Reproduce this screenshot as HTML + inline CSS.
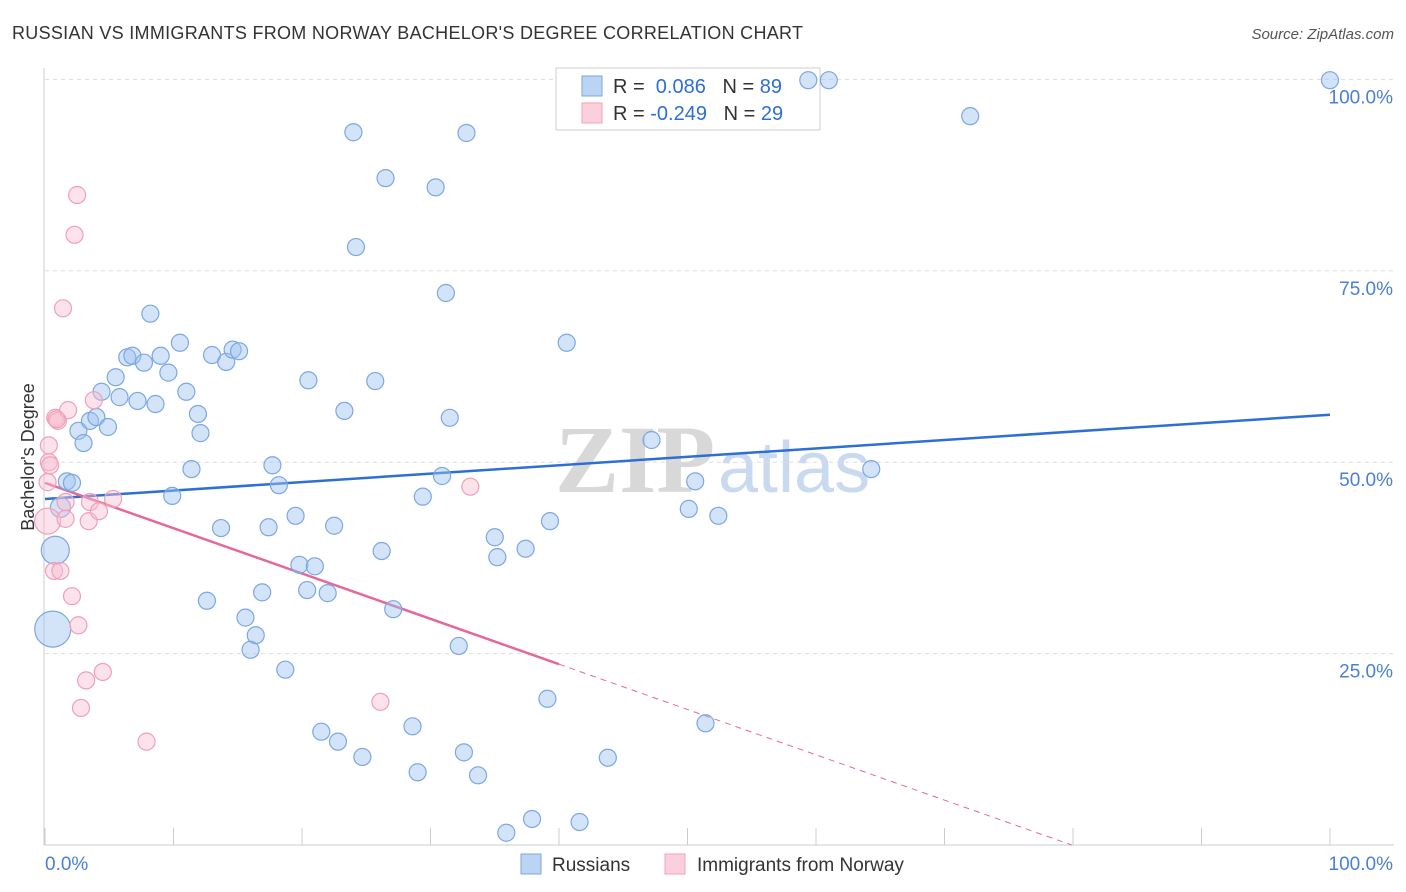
<!DOCTYPE html>
<html><head><meta charset="utf-8"><style>
body{margin:0;background:#fff;font-family:"Liberation Sans",sans-serif;}
svg{display:block}
</style></head><body>
<svg id="chart" width="1406" height="892" xmlns="http://www.w3.org/2000/svg">
<text x="12" y="39" font-size="18" fill="#333" textLength="791">RUSSIAN VS IMMIGRANTS FROM NORWAY BACHELOR'S DEGREE CORRELATION CHART</text>
<text x="1394" y="39" font-size="15" fill="#555" font-style="italic" text-anchor="end">Source: ZipAtlas.com</text>
<g>
<text x="555" y="492" font-size="96" font-family="Liberation Serif" font-weight="bold" fill="#d8d8d8">ZIP</text>
<text x="718" y="492" font-size="72" fill="#c9daf0">atlas</text>
</g>
<g id="grid"></g>
<g id="axes"></g>
<g>
<rect x="556" y="68" width="264" height="62" fill="#fff" stroke="#ccc"/>
<rect x="582" y="76" width="20" height="20" fill="#bcd4f4" stroke="#7aa6e0"/>
<text x="613" y="93" font-size="20" fill="#333">R = <tspan fill="#2d6fd6">&#160;0.086</tspan>&#160;&#160;&#160;N = <tspan fill="#2d6fd6">89</tspan></text>
<rect x="582" y="103" width="20" height="20" fill="#fbd0dc" stroke="#f0a0b8"/>
<text x="613" y="120" font-size="20" fill="#333">R = <tspan fill="#2d6fd6">-0.249</tspan>&#160;&#160;&#160;N = <tspan fill="#2d6fd6">29</tspan></text>
</g>
<g id="trend"></g>
<g id="pts"></g>
<text x="34" y="457" font-size="18" fill="#333" text-anchor="middle" transform="rotate(-90 34 457)">Bachelor's Degree</text>
<g>
<rect x="521" y="854" width="20" height="20" fill="#bcd4f4" stroke="#7aa6e0"/>
<text x="552" y="871" font-size="19" fill="#333">Russians</text></g>
<g>
<rect x="665" y="854" width="20" height="20" fill="#fbd0dc" stroke="#f0a0b8"/>
<text x="697" y="871" font-size="19" fill="#333">Immigrants from Norway</text></g>
</svg>
<script>
const blueX=[0.6,0.8,1.2,1.7,2.1,2.6,3.0,3.5,4.0,4.4,4.9,5.5,5.8,6.4,6.8,7.2,7.7,8.2,8.6,9.0,9.6,9.9,10.5,11.0,11.4,11.9,12.1,12.6,13.0,13.7,14.1,14.6,15.1,15.6,16.0,16.4,16.9,17.4,17.7,18.2,18.7,19.5,19.8,20.4,20.5,21.0,21.5,22.0,22.5,22.8,23.3,24.0,24.2,24.7,25.7,26.2,26.5,27.1,28.6,29.0,29.4,30.4,30.9,31.2,31.5,32.2,32.6,32.8,33.7,35.0,35.2,35.9,37.4,37.9,39.1,39.3,40.6,41.6,43.8,47.2,50.1,50.6,51.4,52.4,59.4,61.0,64.3,72.0,100];
const blueY=[28.2,38.5,44.1,47.5,47.3,54.1,52.5,55.4,55.9,59.2,54.6,61.1,58.5,63.7,63.9,58.0,63.0,69.4,57.6,63.9,61.7,45.6,65.6,59.2,49.1,56.3,53.8,31.9,64.0,41.4,63.1,64.7,64.5,29.7,25.5,27.4,33.0,41.5,49.6,47.0,22.9,43.0,36.6,33.3,60.7,36.4,14.8,32.9,41.7,13.5,56.7,93.1,78.1,11.5,60.6,38.4,87.1,30.8,15.5,9.5,45.5,85.9,48.2,72.1,55.8,26.0,12.1,93.0,9.1,40.2,37.6,1.6,38.7,3.4,19.1,42.3,65.6,3.0,11.4,52.9,43.9,47.5,15.9,43.0,99.9,99.9,49.1,95.2,99.9];
const blueR=[18,14,10];
const pinkX=[0.2,0.2,0.3,0.3,0.8,1.0,0.7,1.2,1.4,1.8,1.6,1.6,2.1,2.3,2.5,2.6,2.8,3.2,3.4,3.5,3.8,4.2,4.5,5.3,7.9,26.1,33.1,0.9,0.4];
const pinkY=[42.3,47.4,52.2,50.0,55.8,55.4,35.8,35.8,70.1,56.8,44.8,42.6,32.5,79.7,84.9,28.7,17.9,21.5,42.3,44.8,58.1,43.6,22.6,45.2,13.5,18.7,46.8,55.6,49.6];
const pinkR=[13];
const blueTrend=[45.2,56.2];
const pinkTrend=[47.3,-0.592];
const yTicks=[25,50,75,100];
const yTickLabels=["25.0%","50.0%","75.0%","100.0%"];
const xTicks=[0,10,20,30,40,50,60,70,80,90,100];
const X=v=>45+v*12.85, Y=v=>845-v*7.656;
const NS="http://www.w3.org/2000/svg";
function mk(t,a,p){const e=document.createElementNS(NS,t);for(const k in a)e.setAttribute(k,a[k]);p.appendChild(e);return e;}
const grid=document.getElementById('grid'),axes=document.getElementById('axes'),tr=document.getElementById('trend'),pts=document.getElementById('pts');
yTicks.forEach((v,i)=>{
 const l=mk('line',{x1:45,x2:1394,y1:Y(v),y2:Y(v),stroke:'#ddd','stroke-dasharray':'4,4'},grid);
 
 
 const t=mk('text',{x:1393,y:Y(v)+24,'font-size':19,fill:'#4a7fd6','text-anchor':'end'},axes);
 t.textContent=yTickLabels[i];
 
 
});
mk('line',{x1:44,x2:44,y1:68,y2:845,stroke:'#ccc'},axes);
mk('line',{x1:44,x2:1394,y1:845,y2:845,stroke:'#ccc'},axes);
xTicks.forEach(v=>{const l=mk('line',{x1:X(v),x2:X(v),y1:828,y2:845,stroke:'#ccc'},axes);
 
 });
let t=mk('text',{x:45,y:870,'font-size':19,fill:'#4a7fd6'},axes);t.textContent='0.0%';

t=mk('text',{x:1393,y:870,'font-size':19,fill:'#4a7fd6','text-anchor':'end'},axes);t.textContent='100.0%';

blueX.forEach((x,i)=>{const c=mk('circle',{cx:X(x),cy:Y(blueY[i]),r:blueR[i]||8.5,fill:'rgba(160,195,240,0.45)',stroke:'#7ba7e4','stroke-width':1.2},pts);
 
 });
pinkX.forEach((x,i)=>{const c=mk('circle',{cx:X(x),cy:Y(pinkY[i]),r:pinkR[i]||8.5,fill:'rgba(248,190,208,0.45)',stroke:'#f0a0b8','stroke-width':1.2},pts);
 
 });
let l=mk('line',{x1:X(0),y1:Y(blueTrend[0]),x2:X(100),y2:Y(blueTrend[1]),stroke:'#2d6fd6','stroke-width':2.5},tr);

const pz=-pinkTrend[0]/pinkTrend[1];
l=mk('line',{x1:X(0),y1:Y(pinkTrend[0]),x2:X(40),y2:Y(pinkTrend[0]+40*pinkTrend[1]),stroke:'#e4689a','stroke-width':2.5},tr);

l=mk('line',{x1:X(40),y1:Y(pinkTrend[0]+40*pinkTrend[1]),x2:X(pz),y2:Y(0),stroke:'#e4689a','stroke-width':1,'stroke-dasharray':'6,5'},tr);

</script>
</body></html>
